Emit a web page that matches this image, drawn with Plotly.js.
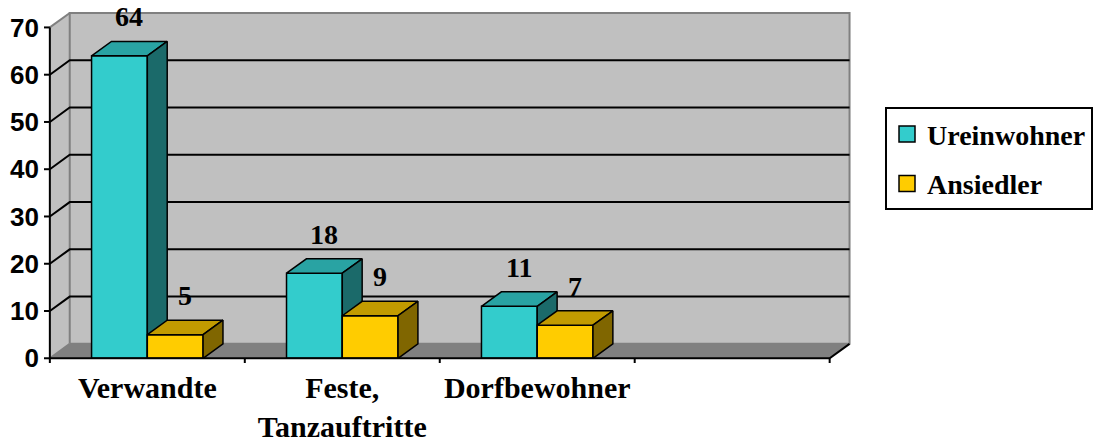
<!DOCTYPE html>
<html>
<head>
<meta charset="utf-8">
<script src="https://cdn.plot.ly/plotly-3.0.1.min.js"></script>
<style>html,body{margin:0;padding:0;background:#fff;}#chart{width:1101px;height:447px;}</style>
</head>
<body>
<div id="chart"></div>
<script>
// ---- data ----
const categories = ["Verwandte", "Feste,<br>Tanzauftritte", "Dorfbewohner", ""];
const seriesNames = ["Ureinwohner", "Ansiedler"];
const ureinwohner = [64, 18, 11, null];
const ansiedler = [5, 9, 7, null];
const yTicks = [0, 10, 20, 30, 40, 50, 60, 70];

// ---- styling / geometry (not data) ----
const DX = 0.102, DY = 3.05;      // depth offset in axis units
const BW = 0.286;                 // bar width in category units
const YMAX = 70;
const nCat = categories.length;
const faceColors = [
  {front: "#33CCCC", top: "#29A3A3", side: "#1B6A6A"},
  {front: "#FFCC00", top: "#C29B00", side: "#806600"}
];
const serif = "Liberation Serif, Times New Roman, serif";
const sans = "Liberation Sans, Arial, sans-serif";

const traces = [];
function poly(xs, ys, fill, line, lw) {
  traces.push({type: "scatter", mode: "lines", x: xs, y: ys, fill: "toself",
    fillcolor: fill, line: {color: line || fill, width: lw === undefined ? 0 : lw},
    hoverinfo: "skip", showlegend: false});
}
function lines(xs, ys, color, w) {
  traces.push({type: "scatter", mode: "lines", x: xs, y: ys, line: {color: color, width: w},
    connectgaps: false, hoverinfo: "skip", showlegend: false});
}

// side wall, back wall, floor
poly([0, DX, DX, 0, 0], [0, DY, YMAX + DY, YMAX, 0], "#C0C0C0", "#C0C0C0", 0);
poly([DX, nCat + DX, nCat + DX, DX, DX], [DY, DY, YMAX + DY, YMAX + DY, DY], "#C0C0C0", "#808080", 2);
poly([0, nCat, nCat + DX, DX, 0], [0, 0, DY, DY, 0], "#808080", "#808080", 0);
// gray edges on side wall
lines([0, DX, null, 0, DX], [0, DY, null, YMAX, YMAX + DY], "#808080", 2);
// gridlines
(function () {
  const gx = [], gy = [];
  yTicks.forEach(v => {
    if (v === 0 || v === YMAX) return;
    gx.push(0, DX, nCat + DX, null);
    gy.push(v, v + DY, v + DY, null);
  });
  lines(gx, gy, "#000000", 2);
})();

// bars
const allSeries = [ureinwohner, ansiedler];
const annotations = [];
const gapStart = (1 - BW * allSeries.length) / 2;
for (let i = 0; i < nCat; i++) {
  allSeries.forEach((vals, s) => {
    const v = vals[i];
    if (v === null || v === undefined) return;
    const x0 = i + gapStart + s * BW, x1 = x0 + BW;
    const c = faceColors[s];
    poly([x0, x1, x1, x0, x0], [0, 0, v, v, 0], c.front, "#000000", 1.5);
    poly([x0, x1, x1 + DX, x0 + DX, x0], [v, v, v + DY, v + DY, v], c.top, "#000000", 1.5);
    poly([x1, x1 + DX, x1 + DX, x1, x1], [0, DY, v + DY, v, 0], c.side, "#000000", 1.5);
    annotations.push({x: (x0 + x1) / 2 + DX / 2, y: v + DY, xref: "x", yref: "y",
      text: String(v), showarrow: false, yanchor: "bottom", yshift: 7,
      font: {family: serif, size: 28, color: "#000", weight: 700}});
  });
}

// front axis lines and ticks
lines([0, 0, nCat, nCat + DX], [YMAX, 0, 0, DY], "#000000", 2);
(function () {
  const tx = [], ty = [];
  yTicks.forEach(v => { tx.push(-0.03, 0, null); ty.push(v, v, null); });
  for (let i = 0; i <= nCat; i++) { tx.push(i, i, null); ty.push(0, -1, null); }
  lines(tx, ty, "#000000", 2);
})();

// legend entries
seriesNames.forEach((name, s) => {
  traces.push({type: "scatter", mode: "markers", x: [-5], y: [-50], name: name,
    legendgroup: "g" + s,
    marker: {symbol: "square", size: 16, color: faceColors[s].front, line: {color: "#000", width: 1.5}},
    hoverinfo: "skip", showlegend: true});
});

const catCenters = categories.map((c, i) => i + 0.5);

const layout = {
  width: 1101, height: 447,
  margin: {l: 44.13, r: 242.57, t: 8.5, b: 84.3, pad: 0},
  paper_bgcolor: "#ffffff", plot_bgcolor: "rgba(0,0,0,0)",
  showlegend: true,
  legend: {x: 1.037, y: 0.722, xanchor: "left", yanchor: "top", bgcolor: "#ffffff",
    bordercolor: "#000000", borderwidth: 2, traceorder: "grouped", tracegroupgap: 10,
    font: {family: serif, size: 28, color: "#000", weight: 700}},
  xaxis: {range: [-0.03, 4.13], showgrid: false, zeroline: false, showline: false,
    tickmode: "array", tickvals: catCenters, ticktext: categories, ticks: "",
    ticklabelstandoff: 4,
    tickfont: {family: serif, size: 30, color: "#000", weight: 700}, fixedrange: true},
  yaxis: {range: [-1, 73.9], showgrid: false, zeroline: false, showline: false,
    tickmode: "array", tickvals: yTicks, ticktext: yTicks.map(String), ticks: "",
    ticklabelstandoff: 4,
    tickfont: {family: sans, size: 26, color: "#000", weight: 700}, fixedrange: true},
  annotations: annotations,
  hovermode: false
};

Plotly.newPlot("chart", traces, layout, {displayModeBar: false, staticPlot: true});
</script>
</body>
</html>
